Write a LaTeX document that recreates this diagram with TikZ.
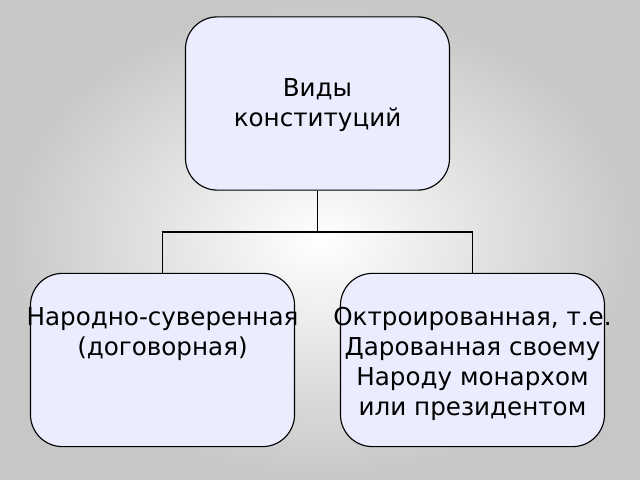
\documentclass[tikz,border=0pt]{standalone}
\usepackage{fontspec}
\setmainfont{DejaVu Sans}
\definecolor{boxfill}{RGB}{236,236,255}
\tikzstyle{box}=[draw=black,fill=boxfill,rounded corners=0.8cm,line width=0.8pt,minimum width=6.6cm,minimum height=4.33cm,inner sep=0pt]
\tikzstyle{txt}=[align=center,font=\fontsize{17.5}{21.5}\selectfont,inner sep=0pt]
\begin{document}
\begin{tikzpicture}[x=0.025cm,y=-0.025cm]
\shade[inner color=white,outer color=black!22] (0,0) rectangle (640,480);
\useasboundingbox (0,0) rectangle (640,480);

\node (kinds) at (317.5,103.5) [box] {};
\node (folk) at (162.5,360) [box] {};
\node (oktr) at (472.5,360) [box] {};

\node (kindst) at (317.5,105) [txt] {Виды\\конституций};
\node (folkt) at (162.5,334) [txt] {Народно-суверенная\\(договорная)};
\node (oktrt) at (472.5,364) [txt] {Октроированная, т.е.\\Дарованная своему\\Народу монархом\\или президентом};

\coordinate (fork) at (317.5,232);
\draw[line width=1.2pt] (kinds.south) -- (fork);
\draw[line width=1.2pt] (fork) -| (folk.north);
\draw[line width=1.2pt] (fork) -| (oktr.north);
\end{tikzpicture}
\end{document}
